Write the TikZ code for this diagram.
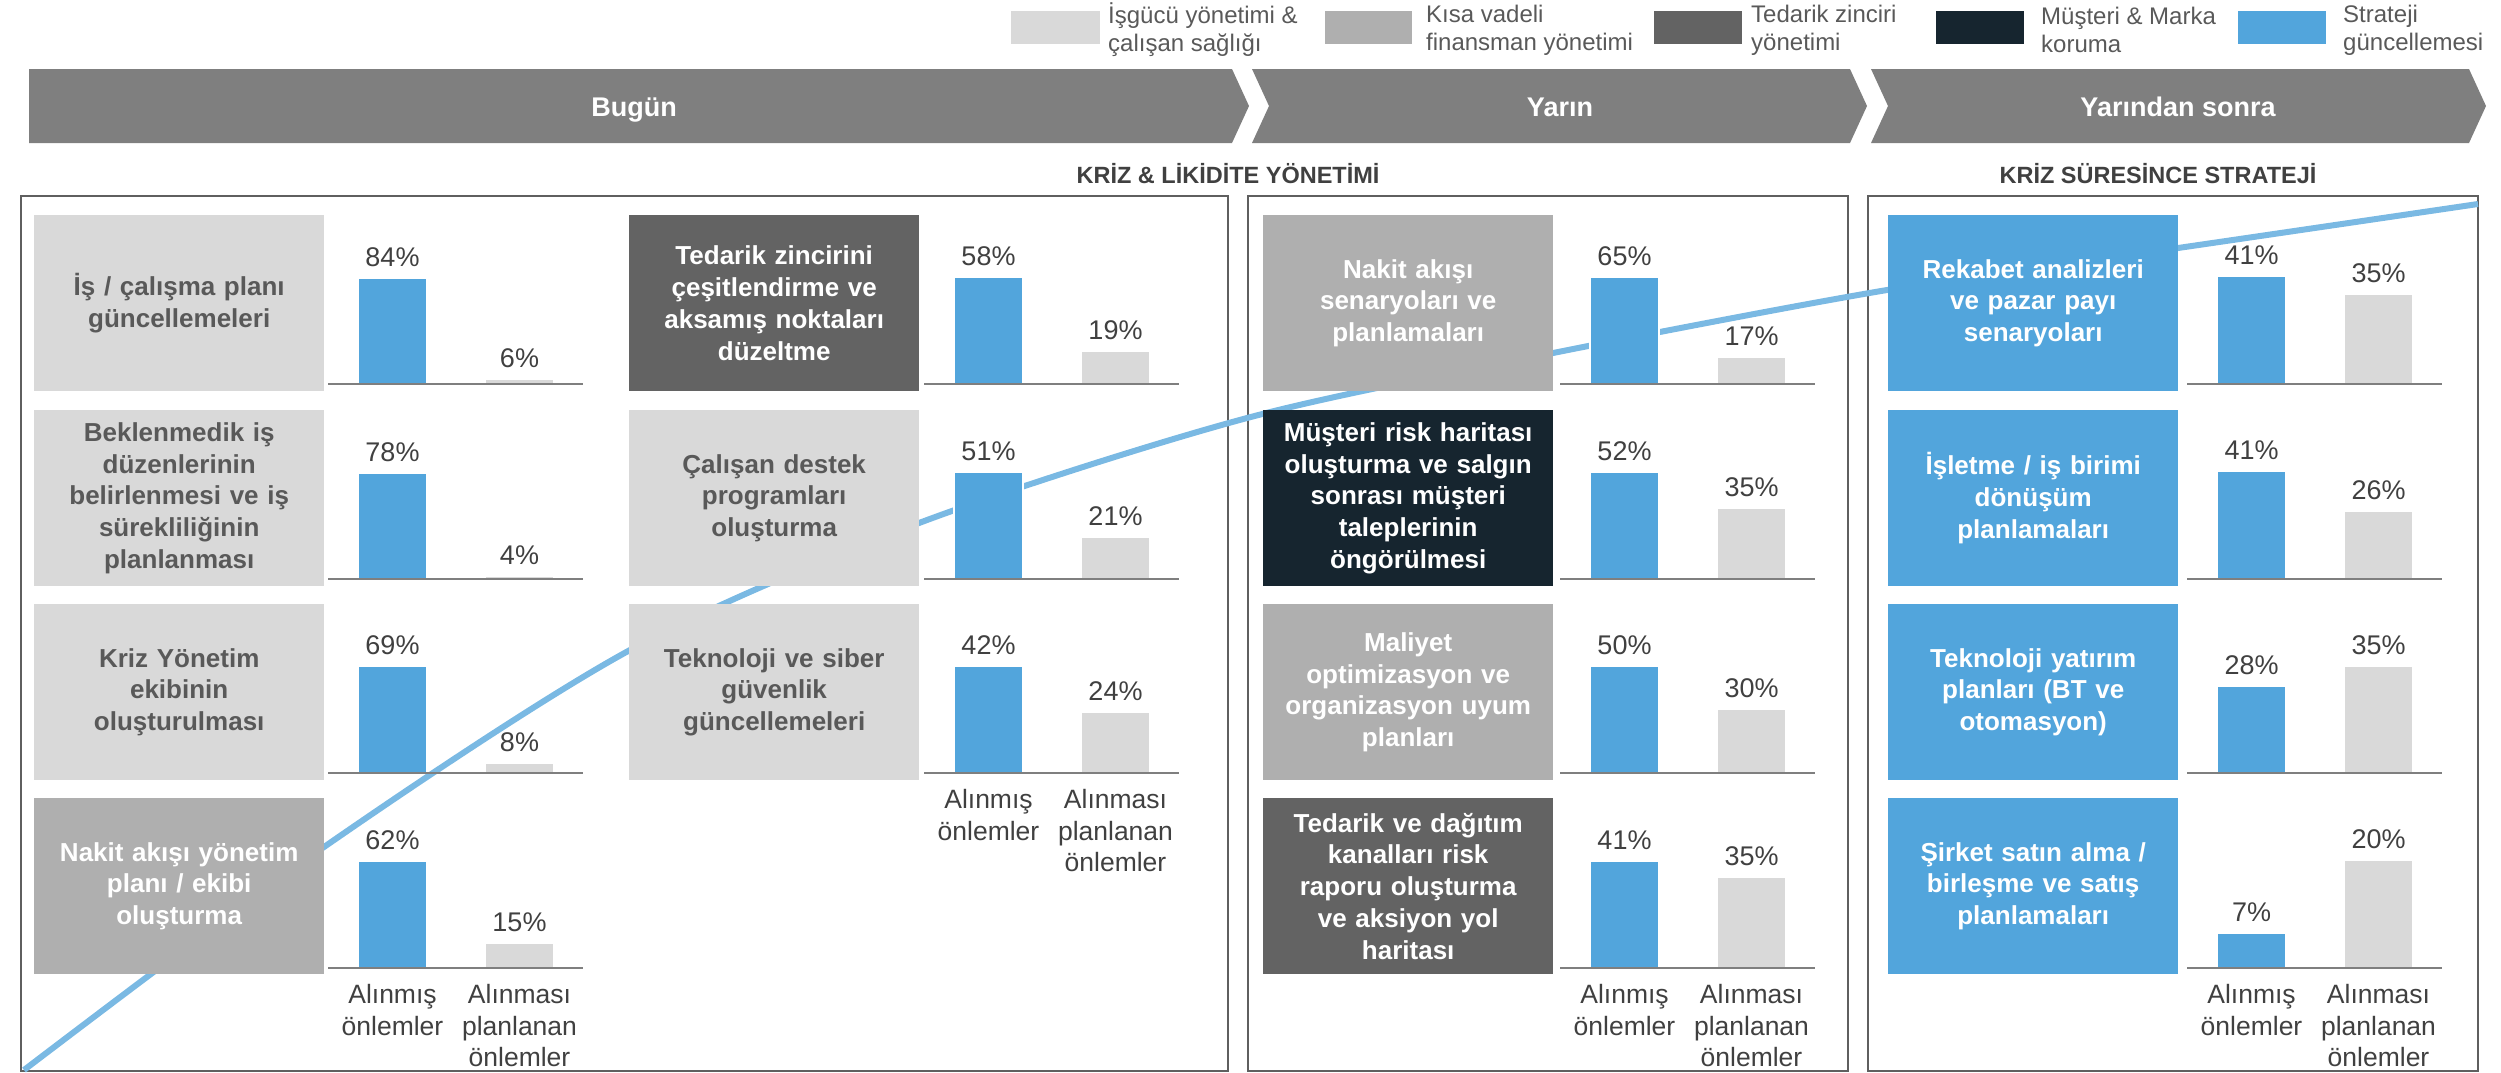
\documentclass[tikz,border=0pt]{standalone}
\usepackage{fontspec}
\setmainfont{Liberation Sans}
\definecolor{kutuacik}{HTML}{D9D9D9}
\definecolor{kutuorta}{HTML}{AFAFAF}
\definecolor{kutukoyu}{HTML}{636363}
\definecolor{kutulaci}{HTML}{16252F}
\definecolor{kutumavi}{HTML}{52A5DC}
\definecolor{egri}{HTML}{7AB9E3}
\definecolor{okgri}{HTML}{7F7F7F}
\definecolor{yazigri}{HTML}{595959}
\definecolor{yazikoyu}{HTML}{404040}
\definecolor{cizgi}{HTML}{5F5F5F}
\begin{document}
\begin{tikzpicture}[x=1pt, y=-1pt,
	kutu/.style={anchor=north west, text width=280pt, inner sep=5pt, minimum height=176pt, align=center, font=\bfseries\fontsize{26}{31.7}\selectfont},
	acik/.style={kutu, fill=kutuacik, text=yazigri},
	orta/.style={kutu, fill=kutuorta, text=white},
	koyu/.style={kutu, fill=kutukoyu, text=white},
	laci/.style={kutu, fill=kutulaci, text=white},
	mavi/.style={kutu, fill=kutumavi, text=white},
	yuzde/.style={anchor=base, inner sep=0pt, text=yazikoyu, font=\fontsize{27}{32}\selectfont},
	eksen/.style={anchor=north, inner sep=0pt, align=center, text=yazikoyu, font=\fontsize{26.5}{31.7}\selectfont},
	lejant/.style={anchor=west, inner sep=0pt, align=left, text=yazigri, font=\fontsize{24}{28}\selectfont},
	ok/.style={fill=okgri},
	okyazi/.style={anchor=base, text=white, font=\bfseries\fontsize{27}{32}\selectfont},
	baslik/.style={anchor=base, text=yazikoyu, font=\bfseries\fontsize{23.5}{28}\selectfont},
	cerceve/.style={draw=cizgi, line width=2.5pt},
	sutun/.style={draw=white, line width=1.5pt}]
	\useasboundingbox (0,0) rectangle (2501,1072);
	% lejant
	\fill[kutuacik] (1011,11) rectangle (1100,44);
	\fill[kutuorta] (1325,11) rectangle (1412,44);
	\fill[kutukoyu] (1654,11) rectangle (1742,44);
	\fill[kutulaci] (1936,11) rectangle (2024,44);
	\fill[kutumavi] (2238,11) rectangle (2326,44);
	\node[lejant] (l1) at (1108,30) {İşgücü yönetimi \&\\çalışan sağlığı};
	\node[lejant] (l2) at (1426,30) {Kısa vadeli\\finansman yönetimi};
	\node[lejant] (l3) at (1751,30) {Tedarik zinciri\\yönetimi};
	\node[lejant] (l4) at (2041,30) {Müşteri \& Marka\\koruma};
	\node[lejant] (l5) at (2343,30) {Strateji\\güncellemesi};
	% oklar
	\fill[ok] (29,69) -- (1232,69) -- (1249,106) -- (1232,143) -- (29,143) -- cycle;
	\fill[ok] (1252,69) -- (1850,69) -- (1867,106) -- (1850,143) -- (1252,143) -- (1269,106) -- cycle;
	\fill[ok] (1871,69) -- (2469,69) -- (2486,106) -- (2469,143) -- (1871,143) -- (1888,106) -- cycle;
	\node[okyazi] (bugun) at (634,116) {Bugün};
	\node[okyazi] (yarin) at (1560,116) {Yarın};
	\node[okyazi] (sonra) at (2178,116) {Yarından sonra};
	\node[baslik] (likidite) at (1228,183) {KRİZ \& LİKİDİTE YÖNETİMİ};
	\node[baslik] (strateji) at (2158,183) {KRİZ SÜRESİNCE STRATEJİ};
	% paneller
	\draw[cerceve] (21,196) rectangle (1228,1071);
	\draw[cerceve] (1248,196) rectangle (1848,1071);
	\draw[cerceve] (1868,196) rectangle (2478,1071);
	% egri
	\draw[egri, line width=6pt] plot[smooth, tension=0.5] coordinates {(24,1070) (324,847) (630,650) (919,523) (1247,418) (1553,353) (1887,290) (2178,248) (2478,204)};
	% sutunlar
	\foreach \bx/\ay/\hb/\pb/\hg/\pg [count=\i] in {358/384/106/84/5/6, 358/579/106/78/3/4, 358/773/107/69/10/8, 358/968/107/62/25/15,
		954/384/107/58/33/19, 954/579/107/51/42/21, 954/773/107/42/61/24,
		1590/384/107/65/27/17, 1590/579/107/52/71/35, 1590/773/107/50/64/30, 1590/968/107/41/91/35,
		2217/384/108/41/90/35, 2217/579/108/41/68/26, 2217/773/87/28/107/35, 2217/968/35/7/108/20}{
		\filldraw[sutun, fill=kutumavi] (\bx,\ay) rectangle ++(69,-\hb);
		\filldraw[sutun, fill=kutuacik] ({\bx+127},\ay) rectangle ++(69,-\hg);
		\draw[okgri, line width=2.5pt] ({\bx-30},\ay) -- ({\bx+225},\ay);
		\node[yuzde] (mv\i) at ({\bx+34.5},{\ay-\hb-12}) {\pb\%};
		\node[yuzde] (gr\i) at ({\bx+161.5},{\ay-\hg-12}) {\pg\%};
	}
	\node[eksen] (ea1) at (392.5,984) {Alınmış\\önlemler};
	\node[eksen] (ea2) at (519.5,984) {Alınması\\planlanan\\önlemler};
	\node[eksen] (eb1) at (988.5,789) {Alınmış\\önlemler};
	\node[eksen] (eb2) at (1115.5,789) {Alınması\\planlanan\\önlemler};
	\node[eksen] (ec1) at (1624.5,984) {Alınmış\\önlemler};
	\node[eksen] (ec2) at (1751.5,984) {Alınması\\planlanan\\önlemler};
	\node[eksen] (ed1) at (2251.5,984) {Alınmış\\önlemler};
	\node[eksen] (ed2) at (2378.5,984) {Alınması\\planlanan\\önlemler};
	% kutular
	\node[acik] (a1) at (34,215) {İş / çalışma planı\\güncellemeleri};
	\node[acik] (a2) at (34,410) {Beklenmedik iş\\düzenlerinin\\belirlenmesi ve iş\\sürekliliğinin\\planlanması};
	\node[acik] (a3) at (34,604) {Kriz Yönetim\\ekibinin\\oluşturulması};
	\node[orta] (a4) at (34,798) {Nakit akışı yönetim\\planı / ekibi\\oluşturma};
	\node[koyu] (b1) at (629,215) {Tedarik zincirini\\çeşitlendirme ve\\aksamış noktaları\\düzeltme};
	\node[acik] (b2) at (629,410) {Çalışan destek\\programları\\oluşturma};
	\node[acik] (b3) at (629,604) {Teknoloji ve siber\\güvenlik\\güncellemeleri};
	\node[orta] (c1) at (1263,215) {Nakit akışı\\senaryoları ve\\planlamaları};
	\node[laci] (c2) at (1263,410) {Müşteri risk haritası\\oluşturma ve salgın\\sonrası müşteri\\taleplerinin\\öngörülmesi};
	\node[orta] (c3) at (1263,604) {Maliyet\\optimizasyon ve\\organizasyon uyum\\planları};
	\node[koyu] (c4) at (1263,798) {Tedarik ve dağıtım\\kanalları risk\\raporu oluşturma\\ve aksiyon yol\\haritası};
	\node[mavi] (d1) at (1888,215) {Rekabet analizleri\\ve pazar payı\\senaryoları};
	\node[mavi] (d2) at (1888,410) {İşletme / iş birimi\\dönüşüm\\planlamaları};
	\node[mavi] (d3) at (1888,604) {Teknoloji yatırım\\planları (BT ve\\otomasyon)};
	\node[mavi] (d4) at (1888,798) {Şirket satın alma /\\birleşme ve satış\\planlamaları};
\end{tikzpicture}
\end{document}
